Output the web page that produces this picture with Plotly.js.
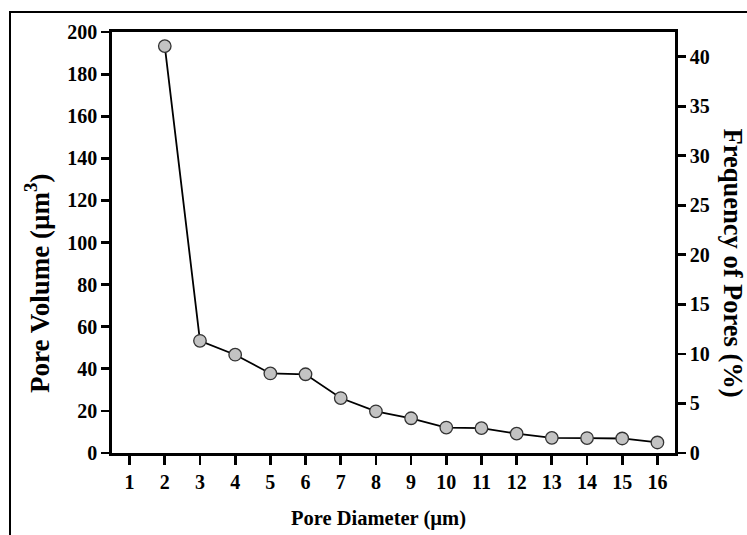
<!DOCTYPE html>
<html>
<head>
<meta charset="utf-8">
<script src="https://cdn.plot.ly/plotly-3.0.1.min.js"></script>
<style>
  html, body { margin: 0; padding: 0; background: #fff; }
  #chart { position: absolute; left: 0; top: 0; width: 747px; height: 535px; }
  #frame { position: absolute; left: 9px; top: 11px; right: -5px; bottom: -5px;
           border-top: 2px solid #000; border-left: 2px solid #000; pointer-events: none; }
</style>
</head>
<body>
<div id="chart"></div>
<div id="frame"></div>
<script>
// Pore diameter (µm)
const poreDiameter = [2, 3, 4, 5, 6, 7, 8, 9, 10, 11, 12, 13, 14, 15, 16];
// Pore volume (µm^3)
const poreVolume = [193.3, 53.3, 46.7, 37.8, 37.4, 26.1, 19.8, 16.5, 12.1, 11.8, 9.2, 7.2, 7.1, 6.9, 5.0];
const xTicks = [1, 2, 3, 4, 5, 6, 7, 8, 9, 10, 11, 12, 13, 14, 15, 16];

const font = { family: 'Liberation Serif, Times New Roman, serif', color: '#000', weight: 'bold' };

const traces = [
  {
    x: poreDiameter, y: poreVolume, type: 'scatter', mode: 'lines+markers',
    line: { color: '#000', width: 1.8 },
    marker: { size: 12.5, color: '#c3c3c3', line: { color: '#333', width: 1.3 } },
    hoverinfo: 'x+y', showlegend: false
  },
  {
    x: [], y: [], type: 'scatter', mode: 'markers', yaxis: 'y2',
    hoverinfo: 'skip', showlegend: false
  }
];

const axisCommon = {
  showgrid: false, zeroline: false, showline: true, linecolor: '#000', linewidth: 2.8,
  ticks: 'outside', tickcolor: '#000', tickwidth: 2.8,
  tickfont: Object.assign({ size: 20 }, font)
};

const layout = {
  width: 747, height: 535,
  margin: { l: 112, r: 72, t: 32, b: 82 },
  paper_bgcolor: '#fff', plot_bgcolor: '#fff',
  font: font,
  xaxis: Object.assign({}, axisCommon, {
    range: [0.5, 16.5], tickvals: xTicks, ticklen: 9, mirror: true
  }),
  yaxis: Object.assign({}, axisCommon, {
    range: [0, 200], dtick: 20, ticklen: 8
  }),
  yaxis2: Object.assign({}, axisCommon, {
    overlaying: 'y', side: 'right', range: [0, 42.5], dtick: 5, ticklen: 8
  }),
  annotations: [
    {
      text: 'Pore Diameter (µm)', xref: 'paper', yref: 'paper',
      x: 0.474, y: 0, yshift: -65, xanchor: 'center', yanchor: 'middle',
      showarrow: false, font: Object.assign({ size: 20.5 }, font)
    },
    {
      text: 'Pore Volume (µm<sup>3</sup>)', xref: 'paper', yref: 'paper',
      x: -0.133, y: 0.404, xanchor: 'center', yanchor: 'middle',
      textangle: -90, showarrow: false, font: Object.assign({ size: 27 }, font)
    },
    {
      text: 'Frequency of Pores (%)', xref: 'paper', yref: 'paper',
      x: 1.103, y: 0.45, xanchor: 'center', yanchor: 'middle',
      textangle: 90, showarrow: false, font: Object.assign({ size: 26.5 }, font)
    }
  ]
};

Plotly.newPlot('chart', traces, layout, { displayModeBar: false, staticPlot: true });
</script>
</body>
</html>
